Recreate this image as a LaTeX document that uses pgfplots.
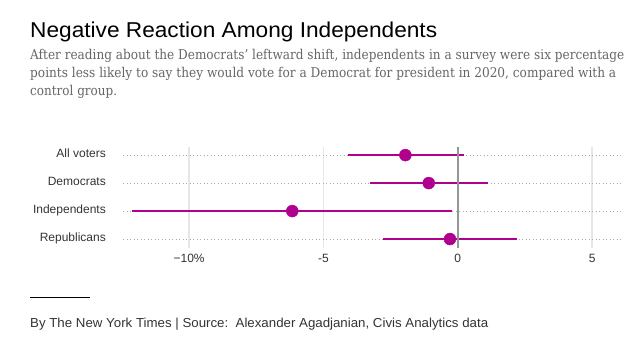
\documentclass[border=0pt]{standalone}
\usepackage{pgfplots}
\pgfplotsset{compat=1.18}
\usepackage{fontspec}
\setmainfont{Liberation Sans}
\newfontfamily\subfont{DejaVu Serif}
\definecolor{mag}{RGB}{176,0,142}
\definecolor{txt}{RGB}{51,51,51}
\definecolor{subc}{RGB}{102,102,102}
\definecolor{gridc}{RGB}{230,230,226}
\definecolor{dotc}{RGB}{170,170,170}
\definecolor{zeroc}{RGB}{150,150,150}
\newsavebox\fitbox
\newcommand\fitw[2]{\sbox\fitbox{#2}\pgfmathsetmacro\fitr{#1/\the\wd\fitbox}\scalebox{\fitr}[1]{\usebox\fitbox}}
\pgfplotstableread{
y est em ep
4 -1.95 2.12 2.18
3 -1.08 2.18 2.20
2 -6.16 5.95 5.94
1 -0.29 2.48 2.49
}\ci
\begin{document}
\begin{tikzpicture}
\useasboundingbox (0,0) rectangle (644bp,359bp);
\node[anchor=base west, inner sep=0, text=black] at (30bp,321bp)
  {\fontsize{21.5bp}{24bp}\selectfont\fitw{407bp}{Negative Reaction Among Independents}};
\node[anchor=base west, inner sep=0, text=subc] at (30bp,299bp)
  {\subfont\fontsize{13.5bp}{16bp}\selectfont\fitw{594bp}{After reading about the Democrats’ leftward shift, independents in a survey were six percentage}};
\node[anchor=base west, inner sep=0, text=subc] at (30bp,281.3bp)
  {\subfont\fontsize{13.5bp}{16bp}\selectfont\fitw{586bp}{points less likely to say they would vote for a Democrat for president in 2020, compared with a}};
\node[anchor=base west, inner sep=0, text=subc] at (30bp,263.3bp)
  {\subfont\fontsize{13.5bp}{16bp}\selectfont\fitw{87bp}{control group.}};
\draw[line width=1bp, black] (30bp,61.7bp) -- (90bp,61.7bp);
\node[anchor=base west, inner sep=0, text=txt] at (30bp,31.3bp)
  {\fontsize{13bp}{15bp}\selectfont\fitw{458bp}{By The New York Times | Source:\ \ Alexander Agadjanian, Civis Analytics data}};
\begin{axis}[
  at={(123bp,111bp)}, anchor=south west,
  scale only axis, width=500bp, height=101bp,
  xmin=-12.46, xmax=6.15, ymin=0.68, ymax=4.29,
  axis line style={draw=none},
  major tick length=0pt,
  xtick={-10,-5,5}, xticklabels={−10\%,-5,5},
  extra x ticks={0}, extra x tick labels={0},
  extra x tick style={grid=none},
  ytick={1,2,3,4}, yticklabels={Republicans,Independents,Democrats,All voters},
  xmajorgrids, ymajorgrids,
  x grid style={gridc, line width=1.5bp},
  y grid style={dotc, line width=1bp, dash pattern=on 1bp off 2.5bp},
  xticklabel style={font=\fontsize{12bp}{14bp}\selectfont, text=txt, anchor=base, yshift=-14.5bp, inner sep=0pt},
  yticklabel style={font=\fontsize{12bp}{14bp}\selectfont, text=txt, anchor=base east, xshift=-17bp, yshift=-2.5bp, inner sep=0pt},
  clip=false,
]
\addplot[draw=none, mark=none, error bars/.cd, x dir=both, x explicit,
  error mark=none, error bar style={line width=2.5bp, mag}]
  table[x=est, y=y, x error minus=em, x error plus=ep]{\ci};
\draw[zeroc, line width=1.5bp] (axis cs:0,0.68) -- (axis cs:0,4.29);
\addplot[only marks, mark=*, mark size=6bp, mag, mark options={draw=mag, fill=mag}]
  table[x=est, y=y]{\ci};
\end{axis}
\end{tikzpicture}
\end{document}
